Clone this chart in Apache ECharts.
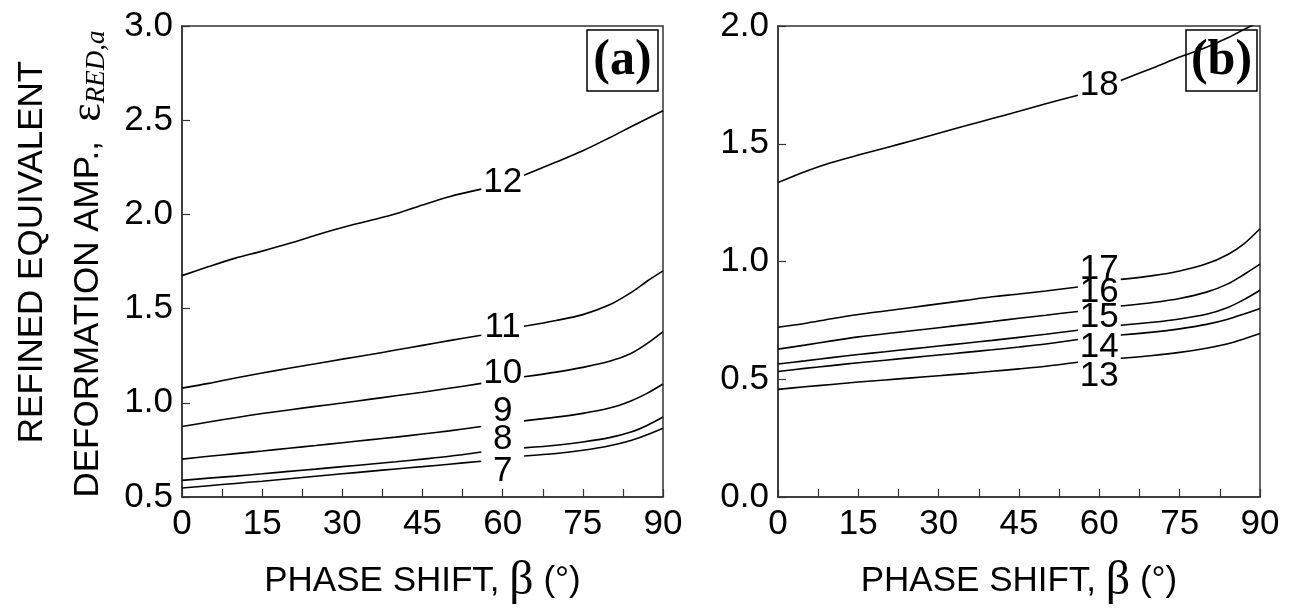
<!DOCTYPE html>
<html>
<head>
<meta charset="utf-8">
<script src="https://cdn.jsdelivr.net/npm/echarts@6/dist/echarts.min.js"></script>
<style>
html, body { margin: 0; padding: 0; background: #fff; }
#chart { width: 1291px; height: 610px; }
</style>
</head>
<body>
<div id="chart"></div>
<script>
// phase shift samples (deg); null in a curve = gap where its label sits
var beta = [0, 5, 10, 15, 20, 25, 30, 35, 40, 45, 50, 56, 60, 64, 70, 75, 80, 84, 87, 90];

// panel (a)
var c7  = [0.548, 0.560, 0.572, 0.584, 0.597, 0.610, 0.623, 0.636, 0.649, 0.661, 0.674, 0.690, null, 0.718, 0.731, 0.748, 0.772, 0.800, 0.830, 0.865];
var c8  = [0.588, 0.600, 0.611, 0.623, 0.636, 0.648, 0.661, 0.674, 0.687, 0.701, 0.716, 0.739, null, 0.761, 0.775, 0.792, 0.815, 0.845, 0.880, 0.925];
var c9  = [0.701, 0.716, 0.730, 0.744, 0.759, 0.773, 0.788, 0.803, 0.818, 0.834, 0.851, 0.874, null, 0.904, 0.924, 0.944, 0.972, 1.010, 1.050, 1.100];
var c10 = [0.874, 0.898, 0.921, 0.943, 0.962, 0.981, 0.999, 1.018, 1.037, 1.056, 1.077, 1.103, null, 1.138, 1.163, 1.188, 1.220, 1.262, 1.314, 1.378];
var c11 = [1.078, 1.103, 1.132, 1.158, 1.183, 1.207, 1.232, 1.255, 1.280, 1.305, 1.330, 1.359, null, 1.406, 1.437, 1.468, 1.520, 1.585, 1.645, 1.700];
var c12 = [1.675, 1.723, 1.768, 1.805, 1.845, 1.889, 1.930, 1.966, 2.003, 2.050, 2.094, 2.134, null, 2.208, 2.278, 2.338, 2.407, 2.465, 2.508, 2.550];

// panel (b)
var c13 = [0.457, 0.468, 0.478, 0.488, 0.497, 0.506, 0.515, 0.524, 0.534, 0.544, 0.555, 0.572, null, 0.589, 0.601, 0.614, 0.632, 0.651, 0.671, 0.694];
var c14 = [0.533, 0.546, 0.558, 0.570, 0.581, 0.592, 0.603, 0.614, 0.625, 0.637, 0.650, 0.669, null, 0.688, 0.700, 0.714, 0.733, 0.755, 0.777, 0.800];
var c15 = [0.565, 0.578, 0.592, 0.605, 0.617, 0.629, 0.641, 0.653, 0.665, 0.678, 0.691, 0.708, null, 0.729, 0.742, 0.756, 0.776, 0.805, 0.838, 0.878];
var c16 = [0.628, 0.645, 0.663, 0.680, 0.693, 0.706, 0.719, 0.732, 0.745, 0.759, 0.772, 0.788, null, 0.811, 0.826, 0.843, 0.870, 0.905, 0.945, 0.989];
var c17 = [0.721, 0.737, 0.757, 0.775, 0.790, 0.805, 0.820, 0.835, 0.850, 0.862, 0.875, 0.892, null, 0.924, 0.940, 0.960, 0.990, 1.030, 1.075, 1.139];
var c18 = [1.335, 1.381, 1.420, 1.452, 1.482, 1.513, 1.545, 1.576, 1.607, 1.638, 1.670, 1.706, null, 1.769, 1.822, 1.868, 1.910, 1.950, 1.985, 2.020];

var curvesA = [[7, c7], [8, c8], [9, c9], [10, c10], [11, c11], [12, c12]];
var curvesB = [[13, c13], [14, c14], [15, c15], [16, c16], [17, c17], [18, c18]];

// label nudges in px (label placement only)
var labelShift = { 7: 13, 8: -11, 9: -12, 10: -7, 11: -3, 12: 0, 13: 16, 14: 10, 15: -10, 16: -16, 17: -14, 18: -2 };

var SANS = '"Liberation Sans", Arial, sans-serif';
var SERIF = '"Liberation Serif", "Times New Roman", serif';

function makeSeries(curve, idx) {
    var name = curve[0], vals = curve[1];
    var data = [];
    for (var i = 0; i < beta.length; i++) {
        data.push([beta[i], vals[i] == null ? '-' : vals[i]]);
    }
    var mid = (vals[11] + vals[13]) / 2;
    return {
        type: 'line',
        name: String(name),
        xAxisIndex: idx,
        yAxisIndex: idx,
        data: data,
        smooth: 0.3,
        showSymbol: false,
        symbol: 'none',
        connectNulls: false,
        lineStyle: { color: '#000', width: 1.6 },
        markPoint: {
            symbol: 'circle',
            symbolSize: 1,
            silent: true,
            itemStyle: { color: 'rgba(0,0,0,0)' },
            label: {
                show: true,
                position: 'inside',
                formatter: String(name),
                color: '#000',
                fontFamily: SANS,
                fontSize: 35,
                offset: [0, labelShift[name]]
            },
            data: [{ coord: [60, mid] }]
        }
    };
}

function xAxisFor(idx) {
    return {
        type: 'value',
        gridIndex: idx,
        min: 0, max: 90, interval: 15,
        name: 'PHASE SHIFT, {b|β} (°)',
        nameLocation: 'middle',
        nameGap: 60,
        nameTextStyle: {
            color: '#000', fontFamily: SANS, fontSize: 35,
            rich: { b: { fontFamily: SERIF, fontSize: 48, color: '#000' } }
        },
        axisLine: { show: true, lineStyle: { color: '#333', width: 1.5 } },
        axisTick: { show: true, inside: true, length: 8, lineStyle: { color: '#333', width: 1.2 } },
        minorTick: { show: true, splitNumber: 2, length: 8, lineStyle: { color: '#333', width: 1.2 } },
        axisLabel: { color: '#000', fontFamily: SANS, fontSize: 35, margin: 10 },
        splitLine: { show: false }
    };
}

function yAxisFor(idx, min, max) {
    return {
        type: 'value',
        gridIndex: idx,
        min: min, max: max, interval: 0.5,
        axisLine: { show: true, lineStyle: { color: '#333', width: 1.5 } },
        axisTick: { show: true, inside: true, length: 8, lineStyle: { color: '#333', width: 1.2 } },
        axisLabel: {
            color: '#000', fontFamily: SANS, fontSize: 35, margin: 9,
            formatter: function (v) { return v.toFixed(1); }
        },
        splitLine: { show: false }
    };
}

function panelTag(text, left, top) {
    return {
        type: 'group',
        z: 100,
        children: [
            { type: 'rect', shape: { x: left, y: top, width: 71, height: 61 },
              style: { fill: '#fff', stroke: '#000', lineWidth: 1.5 } },
            { type: 'text', x: left + 35.5, y: top + 31,
              style: { text: text, font: 'bold 50px ' + SERIF, fill: '#000', align: 'center', verticalAlign: 'middle' } }
        ]
    };
}

var series = [];
curvesA.forEach(function (c) { series.push(makeSeries(c, 0)); });
curvesB.forEach(function (c) { series.push(makeSeries(c, 1)); });

var chart = echarts.init(document.getElementById('chart'));
chart.setOption({
    animation: false,
    backgroundColor: '#fff',
    grid: [
        { left: 182, top: 26, width: 481, height: 481, show: true, borderColor: '#333', borderWidth: 1.5, backgroundColor: 'transparent' },
        { left: 778, top: 26, width: 482, height: 481, show: true, borderColor: '#333', borderWidth: 1.5, backgroundColor: 'transparent' }
    ],
    xAxis: [xAxisFor(0), xAxisFor(1)],
    yAxis: [yAxisFor(0, 0.5, 3.0), yAxisFor(1, 0, 2.0)],
    series: series,
    graphic: [
        panelTag('(a)', 587, 30),
        panelTag('(b)', 1186, 30),
        {
            type: 'text', x: 32, y: 252, rotation: Math.PI / 2,
            style: { text: 'REFINED EQUIVALENT', font: '35px ' + SANS, fill: '#000', align: 'center', verticalAlign: 'middle' }
        },
        {
            type: 'text', x: 88, y: 264, rotation: Math.PI / 2,
            style: {
                text: 'DEFORMATION AMP.,  {e|ε}{s|RED,a}',
                font: '35px ' + SANS, fill: '#000', align: 'center', verticalAlign: 'middle',
                rich: {
                    e: { fontFamily: SERIF, fontSize: 44, fill: '#000', verticalAlign: 'bottom' },
                    s: { fontFamily: SERIF, fontStyle: 'italic', fontSize: 27, fill: '#000', verticalAlign: 'bottom', padding: [15, 0, 0, 0] }
                }
            }
        }
    ]
});
</script>
</body>
</html>
